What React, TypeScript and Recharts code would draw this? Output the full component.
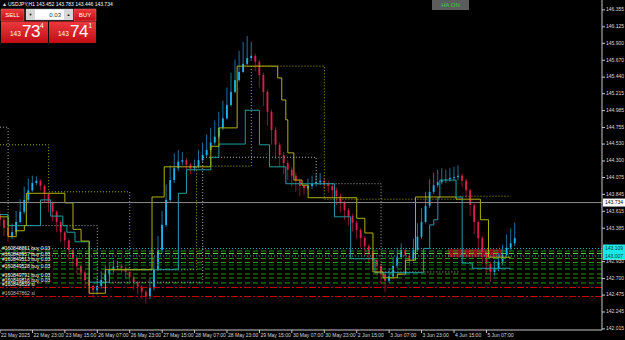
import React from 'react';
import { ComposedChart, Bar, Line, XAxis, YAxis, ReferenceLine, ReferenceArea } from 'recharts';

const FONT = '"Liberation Sans", Arial, sans-serif';
const AXIS = '#c8c8c8';
const TXT = '#d8d8d8';

// Heiken Ashi candles, one per 2 hours (candle i starts at hour 2*i)
const firstOpen = 143.58;
const closes = [
  143.50,143.39,143.28,143.33,143.47,143.61,143.77,143.90,144.00,144.03,
  143.96,143.85,143.73,143.61,143.47,143.33,143.22,143.09,142.98,142.87,
  142.78,142.68,142.60,142.54,142.60,142.68,142.76,142.82,142.86,142.87,
  142.84,142.79,142.72,142.65,142.59,142.52,142.45,142.57,142.82,143.09,
  143.43,143.77,144.04,144.20,144.29,144.31,144.25,144.20,144.23,144.31,
  144.38,144.45,144.55,144.63,144.75,144.88,145.06,145.24,145.40,145.51,
  145.62,145.70,145.73,145.65,145.47,145.24,144.97,144.72,144.52,144.38,
  144.27,144.18,144.10,144.03,143.96,143.93,143.96,143.99,144.01,144.03,
  143.99,143.96,143.90,143.82,143.73,143.63,143.55,143.46,143.36,143.25,
  143.14,143.05,142.95,142.87,142.76,142.67,142.73,142.87,142.99,143.09,
  143.01,142.95,143.09,143.27,143.47,143.69,143.88,143.97,144.01,144.04,
  144.05,144.07,144.08,144.10,144.03,143.90,143.70,143.47,143.25,143.06,
  142.90,142.79,142.84,142.93,143.02,143.12,143.18,143.25,
];
const highs = [
  143.62,143.53,143.41,143.45,143.62,143.78,143.95,144.06,144.10,144.09,
  144.05,143.98,143.87,143.75,143.63,143.49,143.35,143.24,143.11,143.00,
  142.89,142.80,142.70,142.62,142.70,142.80,142.88,142.93,142.95,142.94,
  142.90,142.86,142.81,142.74,142.67,142.61,142.54,142.70,143.00,143.28,
  143.62,143.98,144.24,144.40,144.45,144.42,144.34,144.27,144.32,144.45,
  144.55,144.66,144.75,144.85,144.97,145.12,145.30,145.50,145.68,145.80,
  145.92,146.00,145.92,145.76,145.68,145.50,145.27,145.00,144.76,144.55,
  144.42,144.31,144.22,144.14,144.06,144.00,144.06,144.10,144.12,144.14,
  144.07,144.03,144.00,143.94,143.86,143.76,143.66,143.58,143.49,143.39,
  143.28,143.17,143.08,142.98,142.90,142.80,142.84,143.00,143.12,143.18,
  143.12,143.04,143.24,143.45,143.66,143.88,144.05,144.14,144.18,144.20,
  144.18,144.20,144.22,144.24,144.13,144.06,143.92,143.72,143.50,143.28,
  143.08,142.93,142.95,143.05,143.16,143.30,143.38,143.46,
];
const lows = [
  143.40,143.28,143.20,143.24,143.30,143.45,143.58,143.74,143.88,143.97,
  143.90,143.74,143.60,143.48,143.33,143.20,143.10,142.96,142.86,142.76,
  142.66,142.57,142.48,142.44,142.48,142.56,142.64,142.72,142.78,142.82,
  142.78,142.70,142.62,142.55,142.48,142.42,142.36,142.42,142.54,142.80,
  143.05,143.40,143.74,144.00,144.16,144.24,144.17,144.12,144.16,144.20,
  144.28,144.35,144.42,144.52,144.60,144.72,144.86,145.04,145.22,145.38,
  145.50,145.60,145.66,145.52,145.30,145.05,144.78,144.52,144.33,144.22,
  144.12,144.04,143.95,143.88,143.82,143.84,143.90,143.92,143.95,143.97,
  143.92,143.87,143.80,143.70,143.60,143.50,143.42,143.34,143.24,143.12,
  143.00,142.92,142.82,142.74,142.62,142.52,142.64,142.70,142.84,142.96,
  142.94,142.86,142.94,143.06,143.24,143.45,143.66,143.85,143.94,143.98,
  144.00,144.02,144.03,144.04,143.95,143.80,143.55,143.30,143.06,142.90,
  142.76,142.66,142.74,142.80,142.88,142.98,143.08,143.14,
];

// step lines: [hour, price]
const yellowSolid: [number, number][] = [
  [0,143.54],[4,143.27],[8,143.35],[12,143.42],[13,143.86],[32,143.73],[36,143.37],[40,143.21],
  [44,142.50],[52,142.82],[75,143.81],[81,144.22],[104,144.50],[108,144.75],[117,145.59],[137,145.43],
  [139,145.13],[141,144.86],[142,144.41],[145,144.04],[149,143.97],[152,143.80],[176,143.52],[180,143.32],
  [184,142.79],[189,142.71],[196,142.76],[200,142.95],[205,143.81],[225,143.78],[237,143.50],[241,142.99],[252,142.99],
];
const tealSolid: [number, number][] = [
  [0,143.57],[4,143.42],[20,143.77],[25,143.55],[31,143.42],[33,143.33],[37,143.20],[44,142.65],[54,142.82],
  [88,143.86],[92,144.18],[104,144.35],[108,144.53],[121,144.99],[128,144.52],[133,144.22],[141,143.99],
  [165,143.54],[173,142.97],[185,142.78],[209,143.11],[212,143.43],[214,143.50],[216,143.80],[217,144.04],
  [225,143.81],[228,142.91],[233,142.84],[252,142.84],
];
const yellowDotted: [number, number][] = [
  [0,144.52],[24,143.88],[64,142.82],[97,144.23],[124,145.59],[160,143.78],[227,143.82],[252,143.82],
];
const grayDotted: [number, number][] = [
  [0,144.76],[4,143.42],[48,142.65],[100,144.35],[156,143.99],[188,142.79],[227,142.79],
];

const currentPrice = 143.734;
const orderPrices = [143.109,143.075,143.041,143.007,142.973,142.919,142.884,142.830,142.762,142.708,142.640,142.578,142.456];
const orderKinds = ['cyan','green','lime','cyan','green','green','dark','green','green','green','green','red','red'];
const orderLabels = ['','#160848861 buy 0.03','#160848937 buy 0.03','','','#160849513 buy 0.03','','#160849528 buy 0.03','','#160849791 buy 0.03','#160849816 buy 0.03','#160849839 sl','#160847862 sl'];
const axisBoxes = ['143.109','','','143.007','','','','','','','','',''];
const zonePrices = [142.99, 143.10];
const zoneHours = [221, 248];

const yTicks = [146.355,146.125,145.900,145.670,145.440,145.215,144.985,144.755,144.530,144.300,144.075,143.845,143.615,143.385,142.930,142.700,142.475,142.245,142.015];
const tickHours = [0,16,32,48,64,80,96,112,128,144,160,176,192,208,224,240];
const timeLabels = ['22 May 2025','22 May 23:00','23 May 15:00','26 May 07:00','26 May 23:00','27 May 15:00','28 May 07:00','28 May 23:00','29 May 15:00','30 May 07:00','30 May 23:00','2 Jun 15:00','3 Jun 07:00','3 Jun 23:00','4 Jun 15:00','5 Jun 07:00'];

type Row = { t: number; range?: [number, number]; o?: number; c?: number; ys?: number; tl?: number; yd?: number; gd?: number };
const map = new Map<number, Row>();
const get = (t: number) => { let r = map.get(t); if (!r) { r = { t }; map.set(t, r); } return r; };
closes.forEach((c, i) => {
  const r = get(i * 2);
  r.o = i === 0 ? firstOpen : closes[i - 1];
  r.c = c;
  r.range = [lows[i], highs[i]];
});
yellowSolid.forEach(([t, p]) => { get(t).ys = p; });
tealSolid.forEach(([t, p]) => { get(t).tl = p; });
yellowDotted.forEach(([t, p]) => { get(t).yd = p; });
grayDotted.forEach(([t, p]) => { get(t).gd = p; });
const rows = Array.from(map.values()).sort((a, b) => a.t - b.t);

const Candle = (props: any) => {
  const { x, y, width, height, payload } = props;
  if (!payload || !payload.range || payload.c == null) return null;
  const [lo, hi] = payload.range;
  const top = Math.min(y, y + height);
  const h = Math.abs(height);
  const span = hi - lo || 1e-6;
  const py = (v: number) => top + ((hi - v) / span) * h;
  const up = payload.c >= payload.o;
  const cx = x + width / 2;
  const bt = py(Math.max(payload.o, payload.c));
  const bb = py(Math.min(payload.o, payload.c));
  return (
    <g>
      <line x1={cx} x2={cx} y1={top} y2={top + h} stroke={up ? '#1f6f9f' : '#8a1532'} strokeWidth={1} />
      <rect x={x} y={bt} width={width} height={Math.max(1, bb - bt)} fill={up ? '#1cb2ee' : '#dc1e4a'} />
    </g>
  );
};

const XTick = (props: any) => {
  const { x, y, payload } = props;
  const i = tickHours.indexOf(payload.value);
  return (
    <text x={x + 1} y={y + 1} fill={TXT} fontSize={5} fontFamily={FONT} textAnchor="start" dominantBaseline="middle">
      {timeLabels[i]}
    </text>
  );
};
const YTick = (props: any) => {
  const { x, y, payload } = props;
  return (
    <text x={x - 1} y={y} fill={TXT} fontSize={5} fontFamily={FONT} textAnchor="start" dominantBaseline="middle">
      {Number(payload.value).toFixed(3)}
    </text>
  );
};

const AxisBox = (props: any) => {
  const { viewBox, text, bg, fg } = props;
  if (!viewBox || !text) return null;
  const x = viewBox.x + viewBox.width;
  const y = viewBox.y;
  return (
    <g>
      <rect x={x + 1} y={y - 4} width={22} height={8} fill={bg} />
      <text x={x + 3} y={y + 0.5} fontSize={5} fontFamily={FONT} fill={fg} dominantBaseline="middle">{text}</text>
    </g>
  );
};
const OrderLabel = (props: any) => {
  const { viewBox, text, color, dy } = props;
  if (!viewBox || !text) return null;
  return (
    <text x={viewBox.x + 2} y={viewBox.y + dy} fontSize={5} fontFamily={FONT} fill={color} dominantBaseline="middle">{text}</text>
  );
};

const kindStyle: Record<string, { stroke: string; dash: string }> = {
  cyan: { stroke: '#16b0b0', dash: '1 2' },
  green: { stroke: '#14a014', dash: '5 3' },
  lime: { stroke: '#5fcf3a', dash: '5 3' },
  dark: { stroke: '#0b6a0b', dash: '5 3' },
  red: { stroke: '#cc0000', dash: '7 2 2 2' },
};

export default function App() {
  return (
    <div style={{ position: 'absolute', left: 0, top: 0, width: 625, height: 340, background: '#000', overflow: 'hidden' }}>
      <ComposedChart width={625} height={340} data={rows} margin={{ top: 0, right: 0, bottom: 0, left: 0 }}>
        <XAxis dataKey="t" type="number" domain={[0, 297]} allowDataOverflow ticks={tickHours} interval={0} height={10}
          axisLine={{ stroke: AXIS }} tickLine={{ stroke: AXIS }} tickSize={3} tick={<XTick />} />
        <YAxis orientation="right" type="number" domain={[142.0, 146.49]} allowDataOverflow ticks={yTicks} interval={0} width={23}
          axisLine={{ stroke: AXIS }} tickLine={{ stroke: AXIS }} tickSize={3} tick={<YTick />} />
        {orderPrices.map((p, i) => {
          const s = kindStyle[orderKinds[i]];
          const lbl = axisBoxes[i]
            ? <AxisBox text={axisBoxes[i]} bg="#18e8e8" fg="#0a3a3a" />
            : <OrderLabel text={orderLabels[i]} dy={i === 2 ? 1 : -2.5} color={i === orderPrices.length - 1 ? '#bdbdbd' : '#ffffff'} />;
          return <ReferenceLine key={'o' + i} y={p} stroke={s.stroke} strokeDasharray={s.dash} strokeWidth={1} label={lbl} />;
        })}
        <ReferenceArea x1={zoneHours[0]} x2={zoneHours[1]} y1={zonePrices[0]} y2={zonePrices[1]} fill="#a5101f" fillOpacity={0.85} stroke="none" />
        <Bar dataKey="range" barSize={3} isAnimationActive={false} activeBar={false} shape={(p: any) => <Candle {...p} />} />
        <Line dataKey="gd" type="stepAfter" connectNulls dot={false} activeDot={false} stroke="#a8a8a8" strokeWidth={1} strokeDasharray="1 2" isAnimationActive={false} />
        <Line dataKey="yd" type="stepAfter" connectNulls dot={false} activeDot={false} stroke="#a6a600" strokeWidth={1} strokeDasharray="1 2" isAnimationActive={false} />
        <Line dataKey="tl" type="stepAfter" connectNulls dot={false} activeDot={false} stroke="#1e9ea0" strokeWidth={1} isAnimationActive={false} />
        <Line dataKey="ys" type="stepAfter" connectNulls dot={false} activeDot={false} stroke="#b0b000" strokeWidth={1} isAnimationActive={false} />
        <ReferenceLine y={currentPrice} stroke="#8a8a8a" strokeWidth={1} label={<AxisBox text={currentPrice.toFixed(3)} bg="#ffffff" fg="#000000" />} />
      </ComposedChart>
      <svg width={625} height={340} style={{ position: 'absolute', left: 0, top: 0, pointerEvents: 'none' }} fontFamily={FONT}>
        <defs>
          <linearGradient id="rg" x1="0" y1="0" x2="0" y2="1">
            <stop offset="0" stopColor="#ec3a3e" />
            <stop offset="1" stopColor="#c20c14" />
          </linearGradient>
        </defs>
        <text x={2} y={6} fontSize={5} fill="#e0e0e0">▲</text>
        <text x={8} y={6} fontSize={5} fill="#ffffff">USDJPY,H1  143.452 143.783 143.446 143.734</text>
        <rect x={1} y={9} width={23} height={12} fill="url(#rg)" stroke="#f07a7a" strokeWidth={0.5} />
        <text x={12.5} y={17} fontSize={6} fill="#fff" textAnchor="middle">SELL</text>
        <rect x={26} y={9} width={47} height={11} fill="#ffffff" stroke="#9a9a9a" strokeWidth={0.5} />
        <rect x={26} y={9} width={9} height={11} fill="#d6d6d6" />
        <text x={30.5} y={16} fontSize={4} fill="#222" textAnchor="middle">▼</text>
        <rect x={64} y={9} width={9} height={11} fill="#d6d6d6" />
        <text x={68.5} y={16} fontSize={4} fill="#222" textAnchor="middle">▲</text>
        <text x={61} y={16.5} fontSize={6} fill="#333" textAnchor="end">0.03</text>
        <rect x={74} y={9} width={22} height={12} fill="url(#rg)" stroke="#f07a7a" strokeWidth={0.5} />
        <text x={85} y={17} fontSize={6} fill="#fff" textAnchor="middle">BUY</text>
        <rect x={1} y={21.5} width={47} height={21.5} fill="url(#rg)" />
        <rect x={49} y={21.5} width={47} height={21.5} fill="url(#rg)" />
        <text x={10} y={36} fontSize={6.5} fill="#fff">143</text>
        <text x={22} y={36.5} fontSize={17} fill="#fff" letterSpacing={-0.5}>73</text>
        <text x={40} y={28} fontSize={6.5} fill="#fff">4</text>
        <text x={58} y={36} fontSize={6.5} fill="#fff">143</text>
        <text x={70} y={36.5} fontSize={17} fill="#fff" letterSpacing={-0.5}>74</text>
        <text x={88.5} y={28} fontSize={6.5} fill="#fff">1</text>
        <rect x={432} y={0} width={37} height={10} fill="#5c5c5c" />
        <text x={450.5} y={7.2} fontSize={6} fill="#38d038" textAnchor="middle">HA ON</text>
      </svg>
    </div>
  );
}
